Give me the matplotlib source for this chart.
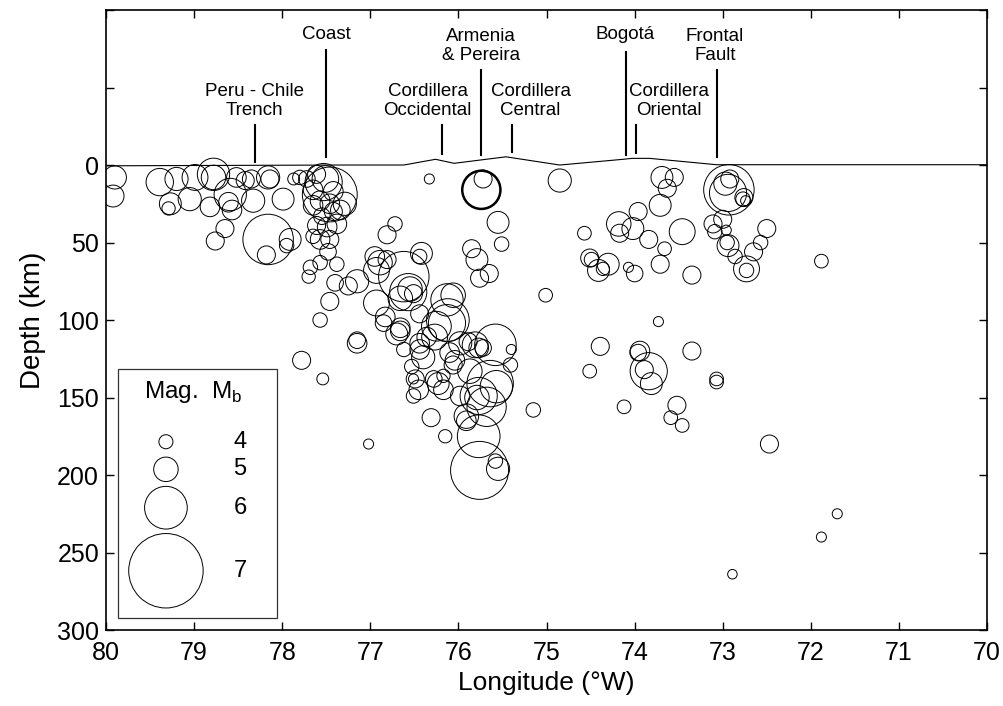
import numpy as np
import matplotlib
matplotlib.use("Agg")
import matplotlib.pyplot as plt
from matplotlib.patches import Rectangle
from matplotlib.ticker import FixedLocator, FuncFormatter

plt.rcParams['font.family'] = ['Liberation Sans', 'DejaVu Sans']
plt.rcParams['mathtext.fontset'] = 'custom'
plt.rcParams['mathtext.rm'] = 'Liberation Sans'

# earthquake hypocentres: longitude (deg W), depth (km), magnitude Mb
lon = [79.90, 79.92, 79.39, 79.20, 79.27, 79.29, 79.05, 78.99, 78.78, 78.78,
       78.82, 78.76, 78.65, 78.59, 78.61, 78.57, 78.52, 78.42, 78.33, 78.35,
       78.14, 78.16, 77.99, 77.87, 77.80, 78.16, 78.18, 77.91, 77.95, 77.72,
       77.46, 77.53, 77.51, 77.61, 77.65, 77.57, 77.46, 77.42, 77.34, 77.29,
       77.55, 77.61, 77.57, 77.46, 77.65, 77.48, 77.57, 77.68, 77.70, 77.38,
       77.40, 77.46, 77.57, 77.15, 77.25, 77.15, 77.15, 77.78, 77.54, 77.65,
       77.42, 77.38, 77.49,
       76.72, 76.81, 76.95, 76.89, 76.93, 76.81, 76.62, 76.42, 76.44, 76.93,
       76.83, 76.85, 76.66, 76.55, 76.51, 76.66, 76.62, 76.44, 76.13, 76.25,
       76.36, 76.44, 76.53, 76.49, 76.45, 76.17, 76.28, 76.33, 75.74, 75.72,
       75.55, 75.51, 75.85, 75.79, 75.65, 75.76, 74.85, 75.01, 76.06, 76.13,
       75.58, 75.77, 75.40, 75.41, 75.64, 75.77, 75.68, 75.91, 76.31, 76.15,
       77.02, 75.15, 76.51, 76.23, 75.76, 75.55, 75.58, 75.77, 76.57, 76.12,
       75.72, 75.81, 75.87, 75.57, 75.79, 75.91, 75.98, 76.51, 76.17, 76.66,
       76.44, 76.40, 76.27, 76.10, 76.04, 75.98, 75.89, 76.06, 76.70,
       73.69, 73.55, 73.63, 73.71, 73.96, 74.18, 74.17, 74.02, 73.84, 73.46,
       74.57, 73.66, 73.71, 74.51, 74.49, 74.30, 74.41, 74.36, 74.07, 74.00,
       73.35, 73.73, 74.39, 74.51, 73.94, 73.96, 73.84, 73.89, 73.81, 73.35,
       74.12, 73.52, 73.59, 73.46, 72.93, 72.92, 72.94, 72.97, 72.77, 72.74,
       72.76, 72.50, 72.57, 72.65, 72.73, 72.73, 72.86, 72.94, 72.95, 72.96,
       73.00, 73.11, 73.09, 71.88, 73.07, 73.07, 72.47, 71.70, 71.88, 72.89]
depth = [8, 20, 11, 9, 25, 28, 22, 8, 6, 8,
         27, 49, 41, 19, 24, 29, 8, 10, 23, 9,
         9, 8, 22, 9, 8, 48, 58, 48, 52, 9,
         19, 11, 9, 6, 26, 23, 25, 30, 29, 25,
         33, 39, 48, 48, 46, 56, 63, 66, 72, 64,
         76, 88, 100, 75, 78, 113, 115, 126, 138, 16,
         17, 38, 40,
         38, 45, 59, 63, 68, 61, 72, 57, 59, 89,
         98, 102, 86, 80, 83, 107, 119, 96, 87, 104,
         111, 119, 130, 138, 145, 145, 138, 9, 16, 9,
         37, 51, 54, 61, 70, 73, 10, 84, 84, 102,
         116, 118, 119, 129, 141, 149, 156, 165, 163, 175,
         180, 158, 138, 141, 197, 196, 191, 175, 82, 100,
         118, 116, 133, 143, 150, 162, 149, 149, 136, 105,
         115, 124, 111, 121, 126, 115, 114, 129, 109,
         8, 8, 15, 26, 30, 38, 44, 41, 48, 43,
         44, 54, 64, 60, 61, 64, 68, 67, 66, 70,
         71, 101, 117, 133, 120, 121, 133, 132, 141, 120,
         156, 155, 163, 168, 16, 9, 18, 12, 22, 23,
         21, 41, 50, 56, 67, 68, 59, 52, 50, 42,
         35, 38, 43, 62, 138, 140, 180, 225, 240, 264]
mag = [4.9, 4.8, 5.2, 4.9, 4.8, 3.9, 4.9, 5.1, 5.5, 5.0,
       4.6, 4.45, 4.45, 5.5, 4.6, 4.6, 4.6, 4.45, 4.9, 4.45,
       4.45, 4.9, 4.8, 3.7, 4.05, 6.3, 4.45, 4.8, 4.05, 4.3,
       6.45, 5.75, 5.15, 4.45, 4.6, 4.6, 4.6, 4.45, 4.6, 4.9,
       4.3, 4.45, 4.6, 4.45, 4.05, 4.3, 4.05, 4.05, 3.9, 4.05,
       4.3, 4.45, 4.05, 4.9, 4.45, 4.3, 4.6, 4.45, 3.7, 4.6,
       4.6, 4.6, 4.6,
       4.05, 4.45, 4.6, 5.0, 5.1, 4.45, 6.3, 4.8, 4.05, 5.1,
       4.6, 4.3, 5.0, 5.0, 4.45, 4.6, 4.05, 4.45, 5.5, 5.35,
       4.6, 4.6, 4.05, 4.45, 4.6, 4.6, 4.3, 3.4, 5.8, 4.45,
       4.8, 4.05, 4.45, 4.8, 4.45, 4.45, 4.9, 3.95, 5.0, 5.75,
       5.95, 4.6, 3.4, 4.05, 6.15, 5.75, 5.85, 4.6, 4.45, 3.9,
       3.4, 4.05, 3.4, 4.8, 6.55, 4.9, 4.05, 6.0, 5.75, 6.0,
       4.3, 5.1, 5.0, 5.5, 5.0, 5.0, 4.6, 4.05, 3.9, 4.6,
       4.6, 4.9, 5.1, 4.6, 4.6, 4.9, 4.45, 4.45, 4.8,
       4.8, 4.45, 4.45, 4.8, 4.45, 5.0, 4.45, 4.8, 4.45, 5.1,
       3.95, 3.95, 4.45, 4.45, 4.05, 4.8, 4.8, 3.9, 3.4, 4.3,
       4.45, 3.4, 4.45, 3.95, 4.6, 4.3, 5.75, 4.45, 4.8, 4.45,
       3.95, 4.45, 3.95, 3.95, 6.3, 4.45, 5.75, 4.9, 4.05, 3.4,
       4.45, 4.45, 4.05, 4.45, 5.1, 4.05, 4.05, 4.8, 4.05, 3.4,
       4.45, 4.45, 4.05, 3.95, 3.95, 3.95, 4.45, 3.4, 3.4, 3.3]

# highlighted event (Armenia earthquake)
hl_lon = [75.74]
hl_depth = [16]
hl_mag = [5.8]

# topography profile (negative = above sea level, exaggerated)
topo_lon = [80, 77.35, 76.62, 76.26, 76.05, 75.46, 74.85, 74.13, 74.03, 73.83, 73.07, 70]
topo_depth = [0.5, 0, 0, -3.7, -1.1, -5.3, 0, -3.7, -4.3, -4.3, -0.2, -0.2]

# surface features: label, label lon, label depth, marker lon, marker top, marker bottom
feat_label = ['Peru - Chile\nTrench', 'Coast', 'Cordillera\nOccidental', 'Armenia\n& Pereira',
              'Cordillera\nCentral', 'Bogotá', 'Cordillera\nOriental', 'Frontal\nFault']
feat_text_lon = [78.31, 77.50, 76.35, 75.74, 75.18, 74.11, 73.61, 73.09]
feat_text_depth = [-41.6, -84, -41.6, -77, -41.6, -84, -41.6, -77]
feat_lon = [78.31, 77.50, 76.19, 75.74, 75.39, 74.10, 73.98, 73.07]
feat_top = [-26, -74, -26, -61, -26, -73, -26, -61]
feat_bot = [-2, -5, -7, -6.4, -8.6, -6.4, -7.5, -5.3]

legend_mags = [4, 5, 6, 7]


def msize(m):
    # circle diameter (px at 100 dpi) grows exponentially with magnitude
    d_px = np.exp(3.476 + 0.556 * (np.asarray(m, dtype=float) - 5.5))
    return (d_px * 0.72) ** 2


fig = plt.figure(figsize=(10.04, 7.06), dpi=100)
ax = fig.add_axes([0.1056, 0.1076, 0.8775, 0.8782])

ax.plot(topo_lon, topo_depth, color='black', lw=0.8)
ax.scatter(lon, depth, s=msize(mag), facecolors='none', edgecolors='black', linewidths=0.7)
ax.scatter(hl_lon, hl_depth, s=msize(hl_mag), facecolors='none', edgecolors='black', linewidths=1.8)

for lab, tx, ty, fx, ft, fb in zip(feat_label, feat_text_lon, feat_text_depth,
                                   feat_lon, feat_top, feat_bot):
    ax.text(tx, ty, lab, ha='center', va='center', fontsize=13.5, linespacing=1.15)
    ax.plot([fx, fx], [ft, fb], color='black', lw=1.5)

ax.set_xlim(80, 70)
ax.set_ylim(300, -100)
ax.xaxis.set_major_locator(FixedLocator(np.arange(70, 81, 1)))
ax.yaxis.set_major_locator(FixedLocator(np.arange(-100, 301, 50)))
ax.yaxis.set_major_formatter(FuncFormatter(lambda v, p: '' if v < 0 else '%d' % v))
ax.tick_params(axis='both', direction='in', length=6, width=1, top=True, right=True,
               labelsize=18)
ax.tick_params(axis='x', pad=8)
ax.tick_params(axis='y', pad=5)
for sp in ax.spines.values():
    sp.set_linewidth(1.2)

ax.set_xlabel('Longitude (°W)', fontsize=19, labelpad=4)
ax.set_ylabel('Depth (km)', fontsize=20, labelpad=8)

# magnitude legend drawn by hand in axes coordinates
ax.add_patch(Rectangle((0.0136, 0.0194), 0.1805, 0.4016, transform=ax.transAxes,
                       facecolor='white', edgecolor='#333333', lw=0.9, zorder=5))
leg_y = [0.3037, 0.2592, 0.1973, 0.0956]
ax.scatter([0.068] * 4, leg_y, s=msize(legend_mags), facecolors='none', edgecolors='black',
           linewidths=0.7, transform=ax.transAxes, zorder=6, clip_on=False)
for m, yy in zip(legend_mags, leg_y):
    ax.text(0.152, yy, str(m), transform=ax.transAxes, ha='center', va='center',
            fontsize=17, zorder=6)
ax.text(0.0988, 0.384, r'Mag.  M$_{\rm b}$', transform=ax.transAxes, ha='center',
        va='center', fontsize=17.5, zorder=6)

fig.savefig('out.png', dpi=100)
